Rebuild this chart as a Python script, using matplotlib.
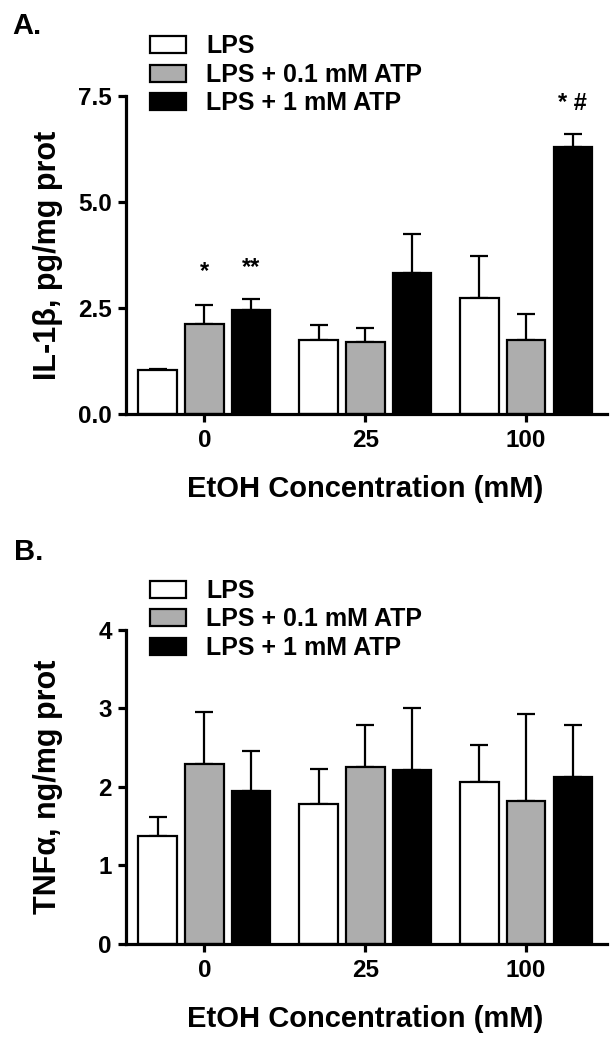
import matplotlib
matplotlib.use('Agg')
import matplotlib.pyplot as plt
import numpy as np

plt.rcParams['font.family'] = ['Liberation Sans', 'DejaVu Sans']
plt.rcParams['font.weight'] = 'bold'

# ---- data ----
groups = ['0', '25', '100']
series = ['LPS', 'LPS + 0.1 mM ATP', 'LPS + 1 mM ATP']
colors = ['white', '#adadad', 'black']

il1b_lps = [1.04, 1.75, 2.73]
il1b_lps_err = [0.02, 0.35, 1.00]
il1b_atp01 = [2.13, 1.70, 1.75]
il1b_atp01_err = [0.44, 0.33, 0.60]
il1b_atp1 = [2.46, 3.32, 6.29]
il1b_atp1_err = [0.26, 0.92, 0.31]

tnf_lps = [1.37, 1.78, 2.06]
tnf_lps_err = [0.25, 0.45, 0.48]
tnf_atp01 = [2.29, 2.25, 1.82]
tnf_atp01_err = [0.66, 0.54, 1.11]
tnf_atp1 = [1.95, 2.22, 2.13]
tnf_atp1_err = [0.51, 0.78, 0.66]

# annotations: (group index, series index, text, y)
il1b_annot = [(0, 1, '*', 3.35), (0, 2, '**', 3.45), (2, 2, '* #', 7.32)]

top_yticks = [0.0, 2.5, 5.0, 7.5]
bot_yticks = [0, 1, 2, 3, 4]
xlabel = 'EtOH Concentration (mM)'

fig = plt.figure(figsize=(6.15, 10.5), dpi=100)

axA = fig.add_axes([0.2044, 0.6057, 0.782, 0.3029])
axB = fig.add_axes([0.2044, 0.1010, 0.782, 0.2990])

width = 0.24
offsets = [-0.29, 0.0, 0.29]
x = np.arange(len(groups))


def draw(ax, means, errs, ylim, yticks, yfmt, ylabel, legend_anchor):
    for i, (m, e) in enumerate(zip(means, errs)):
        xi = x + offsets[i]
        ax.errorbar(xi, m, yerr=[np.zeros(len(m)), e], fmt='none', ecolor='black',
                    elinewidth=1.6, capsize=6.5, capthick=1.6, zorder=1, clip_on=False)
        ax.bar(xi, m, width=width, color=colors[i], edgecolor='black',
               linewidth=1.6, label=series[i], zorder=2)
    ax.set_xlim(-0.488, 2.50)
    ax.set_ylim(*ylim)
    ax.set_yticks(yticks)
    ax.set_yticklabels([yfmt.format(v) for v in yticks])
    ax.set_xticks(x)
    ax.set_xticklabels(groups)
    for s in ['top', 'right']:
        ax.spines[s].set_visible(False)
    for s in ['left', 'bottom']:
        ax.spines[s].set_linewidth(2.3)
    ax.tick_params(axis='both', width=2.3, length=6, labelsize=17.5)
    ax.tick_params(axis='y', pad=4)
    ax.tick_params(axis='x', pad=5)
    ax.set_ylabel(ylabel, fontsize=22, fontweight='bold')
    ax.yaxis.set_label_coords(-0.130, 0.5)
    ax.set_xlabel(xlabel, fontsize=21, fontweight='bold')
    ax.xaxis.set_label_coords(0.497, -0.193)
    leg = ax.legend(loc='upper left', bbox_to_anchor=legend_anchor,
                    bbox_transform=fig.transFigure, frameon=False,
                    fontsize=18, handlelength=1.45, handleheight=0.66,
                    handletextpad=0.8, labelspacing=0.18, borderpad=0,
                    borderaxespad=0)
    for t in leg.get_texts():
        t.set_fontweight('bold')


draw(axA, [il1b_lps, il1b_atp01, il1b_atp1],
     [il1b_lps_err, il1b_atp01_err, il1b_atp1_err],
     (0, 7.5), top_yticks, '{:.1f}', 'IL-1β, pg/mg prot', (0.2435, 0.9672))

draw(axB, [tnf_lps, tnf_atp01, tnf_atp1],
     [tnf_lps_err, tnf_atp01_err, tnf_atp1_err],
     (0, 4), bot_yticks, '{:d}', 'TNFα, ng/mg prot', (0.2435, 0.4486))

for g, s, txt, yv in il1b_annot:
    axA.text(x[g] + offsets[s], yv, txt, ha='center', va='center',
             fontsize=17, fontweight='bold', clip_on=False)

fig.text(0.02, 0.968, 'A.', fontsize=21, fontweight='bold', va='baseline')
fig.text(0.022, 0.467, 'B.', fontsize=21, fontweight='bold', va='baseline')

fig.savefig('out.png', dpi=100)
